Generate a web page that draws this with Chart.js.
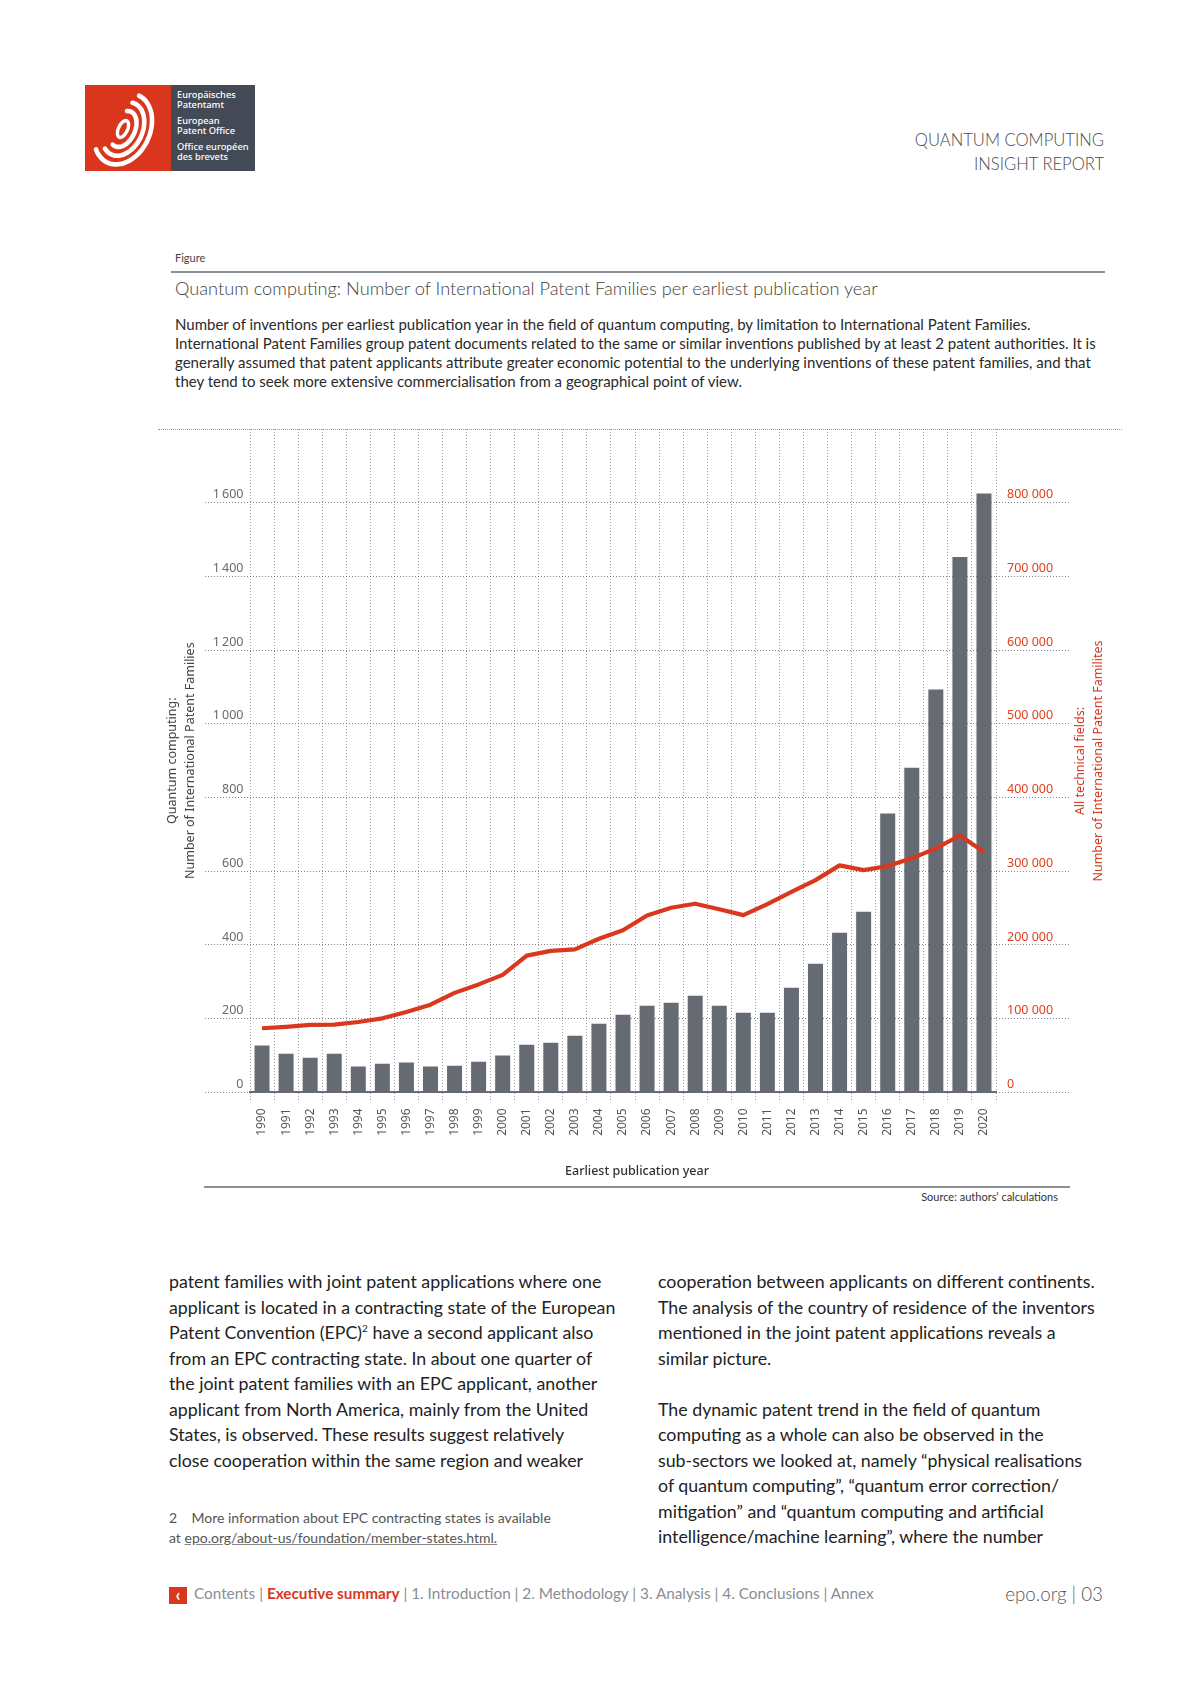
<!DOCTYPE html>
<html>
<head>
<meta charset="utf-8">
<script src="https://cdn.jsdelivr.net/npm/chart.js@4.4.1/dist/chart.umd.min.js"></script>
<style>
  html, body { margin:0; padding:0; background:#fff; }
  body { width:1190px; height:1683px; position:relative; overflow:hidden; font-family:"Lato","Noto Sans",sans-serif; }
  .abs { position:absolute; white-space:nowrap; }
  #hdr { right:86px; top:128px; font-size:16.6px; line-height:24px; color:#4a4a4a; text-align:right; font-weight:300; }
  #figlbl { left:175px; top:251px; font-size:11px; line-height:14px; color:#444; }
  #rule1 { left:171px; top:271px; width:934px; height:2px; background:#8c8f94; }
  #ftitle { left:175px; top:276px; font-size:18.2px; line-height:24px; color:#3f3f3f; font-weight:300; }
  #desc { left:175px; top:315px; font-size:15px; line-height:19px; color:#2a2a2a; }
  #topline { left:158px; top:429px; width:964px; height:0; border-top:1px dotted #9a9a9a; }
  #chartbox { left:150px; top:400px; width:974px; height:785px; }
  #rule2 { left:204px; top:1186px; width:866px; height:2px; background:#8c8f94; }
  #source { right:132px; top:1190px; font-size:11px; line-height:14px; color:#333; }
  #rtitle { left:939px; top:743px; width:300px; height:36px; font-size:12.5px; line-height:17.5px; color:#d9381e; text-align:center; transform:rotate(-90deg); font-family:"Noto Sans",sans-serif; }
  .col { font-size:17.8px; line-height:25.5px; color:#222; }
  #colL { left:169px; top:1269px; }
  #colR { left:658px; top:1269px; }
  #fn { left:169px; top:1508px; font-size:14px; line-height:20px; color:#555; }
  #fn u { text-decoration-color:#888; }
  #footer { left:169px; top:1583px; font-size:15.3px; line-height:20px; color:#8a8d92; }
  #footer .red { color:#d9381e; font-weight:700; }
  #footer .arr { display:inline-block; width:18px; height:17px; background:#d9381e; color:#fff; text-align:center; font-weight:700; line-height:16px; margin-right:7px; vertical-align:-2px; font-size:17px;}
  #pageno { right:87px; top:1581px; font-size:18.8px; line-height:26px; color:#555; font-weight:300; }
  #logotext { left:177px; top:90px; font-size:9.3px; line-height:10px; color:#fff; font-family:"Noto Sans",sans-serif; font-weight:500; }
</style>
</head>
<body>
<svg class="abs" style="left:85px;top:85px" width="170" height="86" id="logo">
  <rect x="0" y="0" width="86" height="86" fill="#d9361d"/>
  <rect x="86" y="0" width="84" height="86" fill="#434a56"/>
  <g id="logosym" fill="none" stroke="#fff" stroke-linecap="round"></g>
</svg>
<div class="abs" id="logotext">Europäisches<br>Patentamt<div style="height:6px"></div>European<br>Patent Office<div style="height:6px"></div>Office européen<br>des brevets</div>

<div class="abs" id="hdr">QUANTUM COMPUTING<br>INSIGHT REPORT</div>
<div class="abs" id="figlbl">Figure</div>
<div class="abs" id="rule1"></div>
<div class="abs" id="ftitle">Quantum computing: Number of International Patent Families per earliest publication year</div>
<div class="abs" id="desc">Number of inventions per earliest publication year in the field of quantum computing, by limitation to International Patent Families.<br>International Patent Families group patent documents related to the same or similar inventions published by at least 2 patent authorities. It is<br>generally assumed that patent applicants attribute greater economic potential to the underlying inventions of these patent families, and that<br>they tend to seek more extensive commercialisation from a geographical point of view.</div>

<div class="abs" id="topline"></div>
<div class="abs" id="chartbox"><canvas id="c" width="974" height="785"></canvas></div>
<div class="abs" id="rtitle">All technical fields:<br>Number of International Patent Familites</div>
<div class="abs" id="rule2"></div>
<div class="abs" id="source">Source: authors’ calculations</div>

<div class="abs col" id="colL">patent families with joint patent applications where one<br>applicant is located in a contracting state of the European<br>Patent Convention (EPC)<sup style="font-size:10px;line-height:0">2</sup> have a second applicant also<br>from an EPC contracting state. In about one quarter of<br>the joint patent families with an EPC applicant, another<br>applicant from North America, mainly from the United<br>States, is observed. These results suggest relatively<br>close cooperation within the same region and weaker</div>
<div class="abs col" id="colR">cooperation between applicants on different continents.<br>The analysis of the country of residence of the inventors<br>mentioned in the joint patent applications reveals a<br>similar picture.<br><br>The dynamic patent trend in the field of quantum<br>computing as a whole can also be observed in the<br>sub-sectors we looked at, namely “physical realisations<br>of quantum computing”, “quantum error correction/<br>mitigation” and “quantum computing and artificial<br>intelligence/machine learning”, where the number</div>
<div class="abs" id="fn">2&nbsp;&nbsp;&nbsp;&nbsp;More information about EPC contracting states is available<br>at <u>epo.org/about-us/foundation/member-states.html.</u></div>
<div class="abs" id="footer"><span class="arr">&lsaquo;</span>Contents | <span class="red">Executive summary</span> | 1. Introduction | 2. Methodology | 3. Analysis | 4. Conclusions | Annex</div>
<div class="abs" id="pageno">epo.org | 03</div>

<script>
// ---- data ----
const years = ["1990","1991","1992","1993","1994","1995","1996","1997","1998","1999","2000","2001","2002","2003","2004","2005","2006","2007","2008","2009","2010","2011","2012","2013","2014","2015","2016","2017","2018","2019","2020"];
const quantumFamilies = [127,105,94,105,70,78,81,70,72,83,100,129,135,154,186,211,235,243,262,235,216,216,284,349,433,490,757,881,1093,1453,1625];
const allFieldsFamilies = [87000,89000,91500,92000,95500,100500,109000,119000,135000,146500,159500,185500,192000,194000,208500,220000,240000,250500,256000,248500,240500,255500,272000,288000,308000,301500,307000,317500,331000,348500,326000];
const leftTitle = ["Quantum computing:","Number of International Patent Families"];
const xTitle = "Earliest publication year";

// ---- logo symbol (decoration) ----
(function(){
  const g = document.getElementById('logosym');
  const cx = 38, cy = 44, phi = 25*Math.PI/180;
  function pt(rx, ry, t){
    return [cx + rx*Math.cos(t)*Math.cos(phi) - ry*Math.sin(t)*Math.sin(phi),
            cy + rx*Math.cos(t)*Math.sin(phi) + ry*Math.sin(t)*Math.cos(phi)];
  }
  function arc(rx, ry, t0, t1, w){
    let d = '';
    for (let i=0;i<=40;i++){ const t = t0 + (t1-t0)*i/40; const p = pt(rx,ry,t); d += (i?'L':'M')+p[0].toFixed(1)+' '+p[1].toFixed(1); }
    const el = document.createElementNS('http://www.w3.org/2000/svg','path');
    el.setAttribute('d', d); el.setAttribute('stroke-width', w); g.appendChild(el);
  }
  arc(4.5, 9, 0, 2*Math.PI, 3.4);
  arc(12, 19, -1.9, 1.8, 4.6);
  arc(19.5, 28, -1.7, 2.0, 4.6);
  arc(27, 37, -1.55, 2.2, 4.6);
})();

// ---- chart ----
const fmtL = v => String(v).replace(/\B(?=(\d{3})+(?!\d))/g, '\u2009');
const fmtR = v => String(v).replace(/\B(?=(\d{3})+(?!\d))/g, ' ');
const gridCol = 'rgba(105,105,110,0.8)';
const ctx = document.getElementById('c').getContext('2d');
new Chart(ctx, {
  data: {
    labels: years,
    datasets: [
      { type:'line', label:'All technical fields', data: allFieldsFamilies, yAxisID:'y2',
        borderColor:'#d9381e', borderWidth:4.2, pointRadius:0, tension:0, order:0, borderJoinStyle:'round' },
      { type:'bar', label:'Quantum computing', data: quantumFamilies, yAxisID:'y',
        backgroundColor:'#656a73', barPercentage:0.623, categoryPercentage:1, order:1 }
    ]
  },
  options: {
    responsive:false, animation:false,
    layout:{ padding:{ top:29, left:0, right:0, bottom:0 } },
    plugins:{
      legend:{ display:false }, tooltip:{ enabled:false },
      title:{ display:true, position:'bottom', text:xTitle, color:'#333',
              font:{ family:'"Noto Sans", sans-serif', size:12.5, weight:'500', lineHeight:1.2 }, padding:{ top:0, bottom:6 } }
    },
    scales:{
      x:{
        grid:{ offset:true, color:'rgba(120,120,125,0.7)', tickLength:10, tickBorderDash:[1,2], drawOnChartArea:true },
        border:{ display:true, color:'#676b72', width:2, dash:[1,2] },
        ticks:{ minRotation:90, maxRotation:90, padding:6, color:'#555', font:{ family:'"Noto Sans", sans-serif', size:12 }, autoSkip:false },
        afterFit: s => { s.height = 71.6; }
      },
      y:{
        position:'left', min:0, max:1800,
        ticks:{ stepSize:200, padding:-38.5, labelOffset:-8, color:'#6a6a6a',
                font:{ family:'"Noto Sans", sans-serif', size:12.5 },
                callback: v => v === 1800 ? '' : fmtL(v) },
        grid:{ color: c => (c.tick && c.tick.value === 1800) ? 'rgba(0,0,0,0)' : gridCol, tickLength:45, tickBorderDash:[1,2] },
        border:{ display:false, dash:[1,2] },
        title:{ display:true, text:leftTitle, color:'#444', font:{ family:'"Noto Sans", sans-serif', size:12.5, lineHeight:1.4 }, padding:{ top:14, bottom:0 } },
        afterFit: s => { s.width = 100; }
      },
      y2:{
        position:'right', min:0, max:900000,
        ticks:{ stepSize:100000, padding:-63, labelOffset:-8, color:'#e0401e',
                font:{ family:'"Noto Sans", sans-serif', size:12.5 },
                callback: v => v === 900000 ? '' : fmtR(v) },
        grid:{ drawOnChartArea:false, color: c => (c.tick && c.tick.value === 900000) ? 'rgba(0,0,0,0)' : gridCol, tickLength:74, tickBorderDash:[1,2] },
        border:{ display:false, dash:[1,2] },
        afterFit: s => { s.width = 128; }
      }
    }
  }
});
</script>
</body>
</html>
